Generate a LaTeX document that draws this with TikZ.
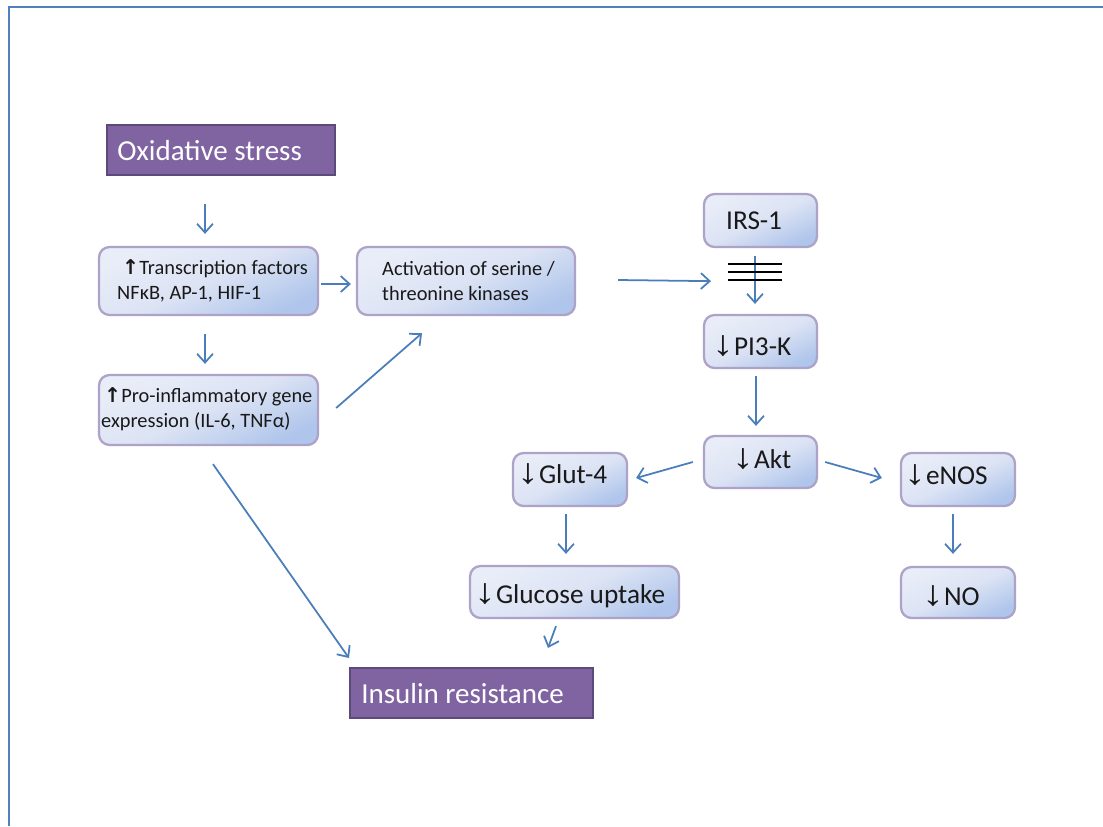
\documentclass[tikz,border=0pt]{standalone}
\usepackage{fontspec}
\usepackage{graphicx}
\setmainfont{Carlito}
\newfontfamily\arrfont{DejaVu Sans}
\newfontfamily\libfont{Liberation Sans}
\usetikzlibrary{arrows.meta,calc}
\definecolor{frameblue}{HTML}{4F81BD}
\definecolor{arrowblue}{HTML}{4A7EBB}
\definecolor{purplefill}{HTML}{8064A2}
\definecolor{purpledraw}{HTML}{5C4A7D}
\definecolor{boxdraw}{HTML}{ADA2C8}
\definecolor{boxlight}{HTML}{E9EDF8}
\definecolor{boxmid}{HTML}{DCE3F4}
\definecolor{boxdark}{HTML}{AFC5EB}
\newcommand{\dn}{\scalebox{1.6}[1.3]{\libfont ↓}}
\newcommand{\up}{{\arrfont\bfseries ↑}}
\begin{document}
\begin{tikzpicture}[x=0.02cm,y=-0.02cm,
  box/.style={draw=boxdraw, line width=1.3pt, rounded corners=6pt,
    top color=boxlight, bottom color=boxdark, middle color=boxmid, shading angle=25,
    inner sep=0pt},
  head/.style={draw=purpledraw, line width=1.2pt, fill=purplefill, inner sep=0pt},
  txt/.style={inner sep=0pt, align=left, text=black!90, font=\fontsize{11.6}{14.3}\selectfont},
  big/.style={inner sep=0pt, text=black!90, font=\fontsize{15.5}{18}\selectfont},
  headtxt/.style={inner sep=0pt, text=white, font=\fontsize{16.5}{19}\selectfont},
  arr/.style={draw=arrowblue, line width=1pt, -{Straight Barb[length=5pt,width=9pt,line width=1pt]}},
  bar/.style={draw=black, line width=1.1pt},
  frame/.style={draw=frameblue, line width=1.2pt}]
\useasboundingbox (0,0) rectangle (1103,826);
\draw[frame] (9,826) -- (9,7) -- (1103,7);

% headers
\node[head, minimum width=4.56cm, minimum height=1.0cm] (ox) at (221,150) {};
\node[headtxt, anchor=base west] (oxl) at ($(ox.west)+(11,10)$) {Oxidative stress};
\node[head, minimum width=4.86cm, minimum height=1.0cm] (ins) at (471.5,693) {};
\node[headtxt, anchor=base west] (insl) at ($(ins.west)+(12,10)$) {Insulin resistance};

% two-line boxes
\node[box, minimum width=4.38cm, minimum height=1.36cm] (tf) at (208.5,281) {};
\node[txt, anchor=west] (tfl) at ($(tf.west)+(19,0)$) {\hspace*{0.1cm}\up Transcription factors\\NFκB, AP-1, HIF-1};
\node[box, minimum width=4.36cm, minimum height=1.36cm] (act) at (466,281) {};
\node[txt, anchor=west] (actl) at ($(act.west)+(26,0)$) {Activation of serine /\\threonine kinases};
\node[box, minimum width=4.38cm, minimum height=1.4cm] (pro) at (208.5,410) {};
\node[txt, anchor=west] (prol) at ($(pro.west)+(3,-1)$) {\hspace*{0.06cm}\up Pro-inflammatory gene\\expression (IL-6, TNFα)};

% single-line boxes
\node[box, minimum width=2.26cm, minimum height=1.06cm] (irs) at (760.5,220.5) {};
\node[big, anchor=base west] (irsl) at ($(irs.west)+(23,8.5)$) {IRS-1};
\node[box, minimum width=2.26cm, minimum height=1.06cm] (pi3) at (760.5,341.5) {};
\node[big, anchor=base west] (pi3l) at ($(pi3.west)+(9,13.5)$) {\dn PI3-K};
\node[box, minimum width=2.26cm, minimum height=1.04cm] (akt) at (760.5,462) {};
\node[big, anchor=base west] (aktl) at ($(akt.west)+(29,6)$) {\dn Akt};
\node[box, minimum width=2.28cm, minimum height=1.06cm] (enos) at (958,479.5) {};
\node[big, anchor=base west] (enosl) at ($(enos.west)+(4,4.5)$) {\dn eNOS};
\node[box, minimum width=2.28cm, minimum height=1.02cm] (no) at (958,592.5) {};
\node[big, anchor=base west] (nol) at ($(no.west)+(22,12.5)$) {\dn NO};
\node[box, minimum width=2.28cm, minimum height=1.06cm] (glut) at (570,479.5) {};
\node[big, anchor=base west] (glutl) at ($(glut.west)+(5,3.5)$) {\dn Glut-4};
\node[box, minimum width=4.18cm, minimum height=1.04cm] (gluc) at (574.5,592) {};
\node[big, anchor=base west] (glucl) at ($(gluc.west)+(5,11)$) {\dn Glucose uptake};

% connectors
\draw[arr] ($(ox.south)+(-16,28)$) -- ($(tf.north)+(-3.5,-12)$);
\draw[arr] ($(tf.south)+(-3.5,18)$) -- ($(pro.north)+(-3.5,-10)$);
\draw[arr] ($(tf.east)+(2,3)$) -- ($(act.west)+(-5,3)$);
\draw[arr] ($(pro.east)+(17,-2)$) -- ($(act.south)+(-44,17)$);
\draw[arr] ($(act.east)+(42,-1)$) -- ($(irs.south)+(-49.5,33)$);
\draw[arr] ($(irs.south)+(-5.5,8)$) -- ($(pi3.north)+(-5.5,-10)$);
\draw[bar] ($(irs.south)+(-32.5,16)$) -- ($(irs.south)+(21.5,16)$);
\draw[bar] ($(irs.south)+(-32.5,24)$) -- ($(irs.south)+(21.5,24)$);
\draw[bar] ($(irs.south)+(-32.5,32)$) -- ($(irs.south)+(21.5,32)$);
\draw[arr] ($(pi3.south)+(-4.5,7)$) -- ($(akt.north)+(-4.5,-9)$);
\draw[arr] ($(akt.east)+(7,0)$) -- ($(enos.west)+(-18,-1.5)$);
\draw[arr] ($(akt.west)+(-10,0)$) -- ($(glut.east)+(8,-1.5)$);
\draw[arr] ($(enos.south)+(-5,7)$) -- ($(no.north)+(-5,-12)$);
\draw[arr] ($(glut.south)+(-4,7)$) -- ($(gluc.north)+(-8.5,-11)$);
\draw[arr] ($(gluc.south)+(-18.5,7)$) -- ($(ins.north)+(76.5,-19)$);
\draw[arr] ($(pro.south)+(4.5,18)$) -- ($(ins.west)+(0,-35)$);
\end{tikzpicture}
\end{document}
